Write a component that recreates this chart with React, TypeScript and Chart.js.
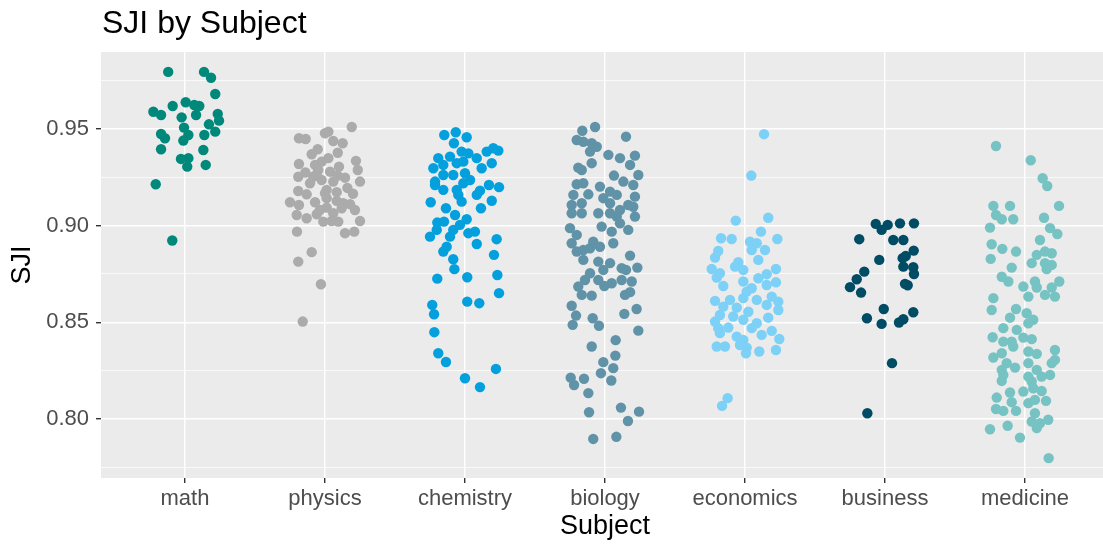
import React, { useEffect, useRef } from "react";
import { Chart, registerables } from "chart.js";

Chart.register(...registerables);

// Subjects along the x axis (positions 1..7)
const categories = ["math", "physics", "chemistry", "biology", "economics", "business", "medicine"];
const colors = ["#00897B", "#ABABAB", "#03A0DD", "#6193A8", "#7DD0F6", "#004C64", "#77C3C3"];

// Horizontal jitter (in category units) and SJI value of every observation
const mathJitter = [-0.12, 0.136, 0.186, 0.216, 0.005, -0.088, -0.226, -0.171, 0.066, 0.102, 0.079, -0.024, 0.234, 0.243, 0.171, -0.007, 0.216, 0.138, -0.171, -0.143, 0.024, -0.012, -0.171, 0.131, -0.029, 0.024, 0.016, 0.148, -0.209, -0.091];
const mathSJI = [0.9795, 0.9795, 0.9765, 0.9681, 0.9638, 0.9619, 0.9589, 0.9572, 0.9624, 0.9619, 0.9572, 0.956, 0.9578, 0.9543, 0.9524, 0.9507, 0.9486, 0.9469, 0.9474, 0.9452, 0.9469, 0.944, 0.9395, 0.9391, 0.9345, 0.9349, 0.9305, 0.9314, 0.9214, 0.8923];

const physicsJitter = [0.191, 0.024, 0.0, -0.186, -0.138, 0.059, 0.126, -0.052, -0.095, 0.091, 0.024, -0.186, 0.221, -0.071, 0.1, 0.234, -0.048, 0.036, -0.191, -0.084, 0.143, 0.091, 0.25, -0.107, -0.024, -0.191, -0.131, 0.012, 0.084, -0.25, -0.186, -0.071, 0.012, 0.084, 0.131, 0.179, 0.214, 0.012, -0.202, -0.131, -0.059, -0.012, 0.048, 0.095, 0.25, 0.143, 0.209, -0.2, -0.095, -0.191, -0.029, -0.159, 0.119, 0.059, -0.036, 0.0, 0.059, -0.024, -0.14, 0.16, -0.06, 0.2];
const physicsSJI = [0.951, 0.9486, 0.9478, 0.9452, 0.9448, 0.9438, 0.9426, 0.9395, 0.9369, 0.9377, 0.9349, 0.9319, 0.9335, 0.9314, 0.9305, 0.9288, 0.9288, 0.9279, 0.9253, 0.9253, 0.9248, 0.9259, 0.9228, 0.9219, 0.9236, 0.9179, 0.9162, 0.9185, 0.9173, 0.9121, 0.9107, 0.9121, 0.9142, 0.9128, 0.9116, 0.9111, 0.9081, 0.9093, 0.9055, 0.9038, 0.9059, 0.9021, 0.9024, 0.9021, 0.9024, 0.8961, 0.8969, 0.8969, 0.8863, 0.8814, 0.8697, 0.8504, 0.909, 0.9064, 0.9081, 0.9168, 0.9228, 0.9331, 0.9275, 0.9195, 0.9265, 0.9165];

const chemistryJitter = [-0.148, -0.066, 0.012, -0.079, -0.024, -0.191, -0.107, 0.024, 0.084, 0.155, 0.202, 0.238, -0.226, -0.155, -0.059, -0.012, 0.119, 0.191, -0.214, -0.155, -0.084, 0.0, 0.036, -0.214, -0.155, -0.059, -0.012, 0.171, 0.243, 0.107, 0.084, -0.048, -0.024, -0.245, 0.191, -0.136, 0.114, -0.071, 0.012, -0.198, -0.15, -0.036, -0.202, -0.084, 0.071, -0.25, -0.107, 0.024, 0.226, 0.084, -0.131, -0.155, 0.207, -0.084, -0.076, -0.198, 0.016, 0.231, 0.243, -0.234, -0.221, 0.016, 0.102, -0.219, -0.191, -0.136, 0.221, 0.0, 0.107];
const chemistrySJI = [0.9469, 0.9483, 0.9457, 0.9426, 0.9383, 0.9349, 0.9357, 0.9374, 0.9349, 0.9383, 0.94, 0.9388, 0.9297, 0.9314, 0.9323, 0.9331, 0.9297, 0.9323, 0.9228, 0.9262, 0.9262, 0.9271, 0.9236, 0.921, 0.9185, 0.9185, 0.9219, 0.921, 0.9199, 0.9181, 0.9159, 0.9159, 0.9124, 0.9121, 0.9129, 0.909, 0.909, 0.9055, 0.9033, 0.9016, 0.9021, 0.9004, 0.8978, 0.8978, 0.8969, 0.8943, 0.8943, 0.8961, 0.893, 0.8905, 0.8891, 0.8866, 0.8849, 0.8826, 0.8775, 0.8726, 0.8733, 0.8745, 0.8651, 0.859, 0.8542, 0.8607, 0.8599, 0.8449, 0.834, 0.8295, 0.8259, 0.8211, 0.8165];

const biologyJitter = [-0.162, -0.071, 0.15, -0.202, -0.155, -0.095, -0.059, -0.107, 0.024, 0.107, 0.214, -0.095, 0.179, -0.191, -0.166, 0.238, 0.064, 0.131, 0.202, -0.202, -0.155, -0.036, 0.036, 0.084, 0.214, -0.226, -0.119, -0.012, 0.036, 0.166, -0.238, -0.166, 0.107, 0.202, -0.238, -0.166, -0.048, 0.036, 0.084, 0.214, 0.107, 0.166, -0.024, 0.048, -0.25, -0.202, -0.238, 0.059, -0.084, -0.036, -0.155, -0.107, -0.202, -0.155, -0.048, 0.036, -0.012, 0.119, 0.179, 0.231, 0.15, -0.107, -0.143, -0.048, -0.191, 0.119, 0.191, 0.048, -0.166, -0.095, -0.005, 0.143, 0.179, -0.238, -0.207, -0.231, -0.088, -0.043, 0.138, 0.226, 0.238, 0.076, -0.095, 0.074, -0.012, 0.059, -0.029, 0.045, -0.245, -0.221, -0.15, -0.119, -0.114, 0.114, 0.243, 0.164, -0.084, 0.081];
const biologySJI = [0.9491, 0.951, 0.946, 0.9443, 0.9434, 0.9426, 0.9408, 0.9383, 0.9366, 0.9349, 0.9362, 0.9323, 0.9314, 0.93, 0.9288, 0.9262, 0.9259, 0.9228, 0.921, 0.9214, 0.9219, 0.9202, 0.9176, 0.9159, 0.915, 0.9159, 0.9162, 0.9142, 0.9116, 0.9107, 0.9107, 0.9116, 0.9081, 0.9098, 0.9064, 0.9064, 0.9064, 0.9064, 0.9047, 0.9047, 0.9012, 0.8978, 0.8995, 0.8969, 0.8987, 0.8952, 0.8909, 0.8909, 0.8917, 0.8891, 0.8874, 0.8883, 0.8866, 0.8823, 0.8814, 0.8806, 0.8771, 0.878, 0.8845, 0.8783, 0.8771, 0.8754, 0.8719, 0.8719, 0.8685, 0.8719, 0.8711, 0.8702, 0.8642, 0.8638, 0.8688, 0.8642, 0.8656, 0.8586, 0.8535, 0.8487, 0.8521, 0.8482, 0.8544, 0.8569, 0.8457, 0.8408, 0.8375, 0.8328, 0.8294, 0.8263, 0.8237, 0.8199, 0.8214, 0.8176, 0.8208, 0.8134, 0.8035, 0.8059, 0.8038, 0.799, 0.7897, 0.7908];

const economicsJitter = [0.136, 0.045, -0.066, 0.166, 0.114, -0.171, -0.095, 0.231, 0.036, 0.084, -0.191, 0.048, 0.143, -0.214, 0.095, -0.048, -0.071, -0.238, -0.012, 0.221, -0.179, -0.202, 0.155, 0.095, -0.012, -0.155, 0.221, 0.155, 0.048, 0.012, -0.214, -0.107, -0.012, 0.084, 0.191, -0.155, 0.238, 0.155, 0.238, -0.059, 0.024, -0.179, -0.084, -0.214, 0.166, -0.012, 0.084, -0.191, -0.119, 0.048, 0.119, 0.191, -0.179, -0.059, -0.012, 0.245, -0.202, -0.143, -0.036, 0.012, 0.102, 0.221, 0.007, -0.124, -0.164];
const economicsSJI = [0.9473, 0.9259, 0.9026, 0.9041, 0.8969, 0.8935, 0.8931, 0.8931, 0.8917, 0.8909, 0.8869, 0.8874, 0.8874, 0.8835, 0.8823, 0.8811, 0.8788, 0.8776, 0.8771, 0.8776, 0.8754, 0.8731, 0.8749, 0.8728, 0.8711, 0.8688, 0.8707, 0.8693, 0.8676, 0.8659, 0.8611, 0.8616, 0.8625, 0.8616, 0.8633, 0.8581, 0.8607, 0.859, 0.8564, 0.8576, 0.8555, 0.8538, 0.853, 0.8504, 0.8524, 0.8513, 0.8495, 0.847, 0.8473, 0.847, 0.8435, 0.8456, 0.8444, 0.8426, 0.8409, 0.8414, 0.8375, 0.8375, 0.8383, 0.8369, 0.8349, 0.8357, 0.834, 0.8108, 0.8068];

const businessJitter = [-0.066, -0.024, 0.019, 0.107, 0.207, -0.184, 0.059, 0.131, 0.205, -0.041, 0.126, 0.148, 0.131, 0.202, 0.207, -0.148, -0.202, -0.25, -0.171, 0.143, 0.162, -0.009, 0.202, -0.129, -0.024, 0.1, 0.131, 0.05, -0.126];
const businessSJI = [0.9009, 0.8978, 0.9004, 0.9012, 0.9012, 0.893, 0.8926, 0.8926, 0.8871, 0.8823, 0.8832, 0.8843, 0.8788, 0.8785, 0.875, 0.8762, 0.8723, 0.8682, 0.8654, 0.8699, 0.8692, 0.8569, 0.8552, 0.8521, 0.8492, 0.8499, 0.8516, 0.8289, 0.803];

const medicineJitter = [-0.207, 0.041, 0.126, 0.159, -0.226, -0.107, 0.243, -0.207, -0.166, -0.084, 0.136, -0.25, 0.179, 0.231, 0.107, -0.238, -0.162, -0.064, 0.084, 0.143, 0.191, -0.245, 0.048, 0.143, 0.191, 0.155, -0.095, -0.166, -0.119, -0.012, 0.071, 0.084, 0.245, 0.191, -0.226, 0.024, 0.143, 0.214, -0.238, -0.064, -0.107, 0.012, 0.059, 0.024, -0.155, -0.059, -0.231, -0.155, -0.095, -0.012, 0.048, -0.084, 0.024, 0.084, 0.214, -0.226, -0.166, 0.214, 0.191, -0.131, 0.024, -0.071, -0.166, 0.084, 0.179, 0.119, -0.155, 0.024, -0.166, 0.048, 0.059, -0.012, 0.119, -0.107, -0.202, 0.024, 0.071, 0.15, -0.095, -0.207, -0.155, -0.064, 0.071, 0.048, 0.107, 0.166, 0.084, -0.25, -0.124, -0.036, 0.169];
const medicineSJI = [0.9412, 0.9338, 0.9245, 0.9205, 0.9102, 0.9102, 0.9102, 0.9055, 0.9033, 0.9033, 0.9041, 0.899, 0.8987, 0.8957, 0.8926, 0.8904, 0.888, 0.8866, 0.8849, 0.8866, 0.8857, 0.8828, 0.8806, 0.8806, 0.8797, 0.8775, 0.8783, 0.8736, 0.8711, 0.8685, 0.8711, 0.868, 0.8711, 0.868, 0.8625, 0.8633, 0.8642, 0.8633, 0.8564, 0.8569, 0.8524, 0.8547, 0.8513, 0.8495, 0.847, 0.8461, 0.8423, 0.84, 0.84, 0.8421, 0.8413, 0.8375, 0.8349, 0.8337, 0.8357, 0.8318, 0.834, 0.8306, 0.8289, 0.8289, 0.8289, 0.8266, 0.8254, 0.8254, 0.8228, 0.8219, 0.8228, 0.8219, 0.8197, 0.8194, 0.8159, 0.8142, 0.8145, 0.8137, 0.8111, 0.8082, 0.8099, 0.8094, 0.8087, 0.8052, 0.8042, 0.8042, 0.803, 0.7987, 0.7978, 0.7996, 0.7953, 0.7947, 0.7965, 0.7904, 0.7798];

const jitters = [mathJitter, physicsJitter, chemistryJitter, biologyJitter, economicsJitter, businessJitter, medicineJitter];
const values = [mathSJI, physicsSJI, chemistrySJI, biologySJI, economicsSJI, businessSJI, medicineSJI];

// Axis ticks: labelled majors plus unlabelled minor grid lines
const yMajorTicks = [0.8, 0.85, 0.9, 0.95];
const yMinorTicks = [0.775, 0.825, 0.875, 0.925, 0.975];

const FONT = "'Liberation Sans', Arial, sans-serif";
const PANEL_BG = "#EBEBEB";

const isMajor = (v: number) => yMajorTicks.some((m) => Math.abs(m - v) < 1e-6);

const panelPlugin = {
  id: "panelBackground",
  beforeDraw(chart: any) {
    const { ctx, chartArea } = chart;
    ctx.save();
    ctx.fillStyle = "#FFFFFF";
    ctx.fillRect(0, 0, chart.width, chart.height);
    ctx.fillStyle = PANEL_BG;
    ctx.fillRect(chartArea.left, chartArea.top, chartArea.right - chartArea.left, chartArea.bottom - chartArea.top);
    ctx.restore();
  },
  afterDraw(chart: any) {
    const { ctx, chartArea } = chart;
    ctx.save();
    ctx.fillStyle = "#000000";
    ctx.font = `32px ${FONT}`;
    ctx.textAlign = "left";
    ctx.textBaseline = "alphabetic";
    ctx.fillText("SJI by Subject", chartArea.left + 1, 33);
    ctx.restore();
  },
};

export default function App() {
  const canvasRef = useRef<HTMLCanvasElement | null>(null);

  useEffect(() => {
    if (!canvasRef.current) return;
    const datasets = categories.map((name, i) => ({
      label: name,
      data: values[i].map((v, j) => ({ x: i + 1 + jitters[i][j], y: v })),
      backgroundColor: colors[i],
      borderWidth: 0,
      pointRadius: 5.2,
      pointHoverRadius: 5.2,
    }));

    const chart = new Chart(canvasRef.current, {
      type: "scatter",
      data: { datasets },
      plugins: [panelPlugin],
      options: {
        animation: false,
        responsive: false,
        events: [],
        layout: { padding: { top: 52, right: 7, left: 0, bottom: 0 } },
        plugins: { legend: { display: false }, tooltip: { enabled: false }, title: { display: false } },
        scales: {
          x: {
            type: "linear",
            min: 0.4,
            max: 7.6,
            afterBuildTicks: (scale: any) => {
              scale.ticks = categories.map((_, i) => ({ value: i + 1 }));
            },
            afterFit: (scale: any) => {
              scale.height = 68;
            },
            border: { display: false },
            grid: {
              color: "#FFFFFF",
              lineWidth: 1.4,
              drawTicks: true,
              tickLength: 5,
              tickColor: "#333333",
              tickWidth: 1.4,
            },
            ticks: {
              autoSkip: false,
              maxRotation: 0,
              padding: 3,
              color: "#4D4D4D",
              font: { family: FONT, size: 22 },
              callback: (v: any) => categories[Math.round(Number(v)) - 1] ?? "",
            },
            title: {
              display: true,
              text: "Subject",
              color: "#000000",
              font: { family: FONT, size: 27, lineHeight: 1 },
              padding: { top: 0, bottom: 6 },
            },
          },
          y: {
            type: "linear",
            min: 0.7695,
            max: 0.9898,
            afterBuildTicks: (scale: any) => {
              scale.ticks = [...yMajorTicks, ...yMinorTicks].sort((a, b) => a - b).map((v) => ({ value: v }));
            },
            afterFit: (scale: any) => {
              scale.width = 101;
            },
            border: { display: false },
            grid: {
              color: "#FFFFFF",
              lineWidth: (c: any) => (isMajor(c.tick?.value) ? 1.4 : 0.7),
              drawTicks: true,
              tickLength: 5,
              tickColor: (c: any) => (isMajor(c.tick?.value) ? "#333333" : "rgba(0,0,0,0)"),
              tickWidth: 1.4,
            },
            ticks: {
              autoSkip: false,
              padding: 7,
              color: "#4D4D4D",
              font: { family: FONT, size: 22 },
              callback: (v: any) => (isMajor(Number(v)) ? Number(v).toFixed(2) : ""),
            },
            title: {
              display: true,
              text: "SJI",
              color: "#000000",
              font: { family: FONT, size: 27, lineHeight: 1 },
              padding: { top: 9, bottom: 0 },
            },
          },
        },
      } as any,
    });
    return () => chart.destroy();
  }, []);

  return (
    <div style={{ position: "fixed", left: 0, top: 0, width: 1103, height: 546, overflow: "hidden", background: "#FFFFFF" }}>
      <canvas ref={canvasRef} width={1116} height={546} style={{ display: "block", width: 1116, height: 546 }} />
    </div>
  );
}
